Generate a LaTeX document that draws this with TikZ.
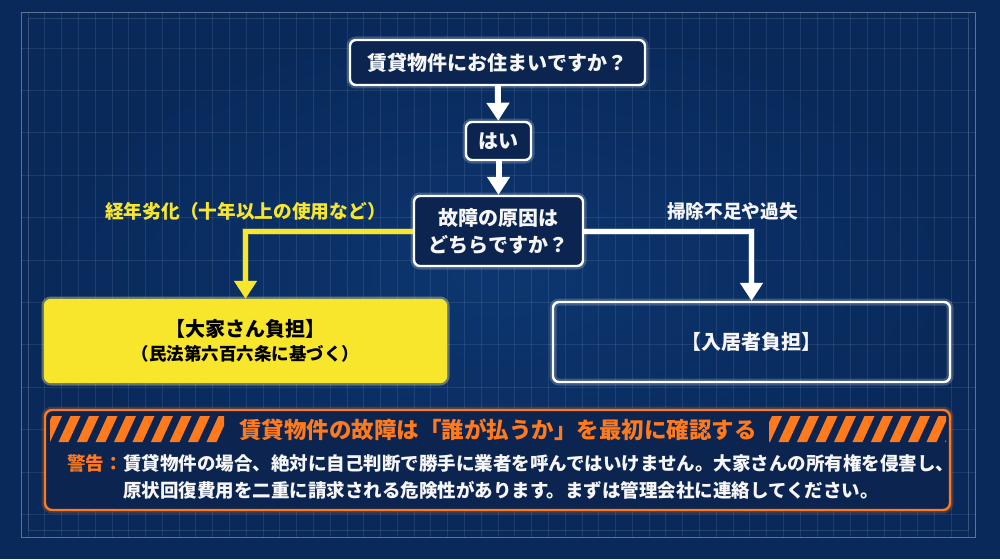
\documentclass[tikz,border=0pt]{standalone}
\usepackage{fontspec}
\setmainfont{Noto Sans CJK JP}
\usetikzlibrary{arrows.meta}

\definecolor{bgnavy}{RGB}{9,41,90}
\definecolor{bgcentre}{RGB}{14,58,118}
\definecolor{boxnavy}{RGB}{11,36,80}
\definecolor{signyellow}{RGB}{248,230,44}
\definecolor{warnorange}{RGB}{255,122,28}
\definecolor{textwhite}{RGB}{246,246,246}

\begin{document}
\begin{tikzpicture}[
    x=1pt, y=-1pt,
    % soft halo drawn under a line
    glow/.style={preaction={draw=#1, line width=7pt, opacity=0.2}},
    qbox/.style={
        rectangle,
        rounded corners=6pt,
        draw=white,
        line width=2.4pt,
        fill=boxnavy,
        text=textwhite,
        align=center,
        inner sep=0pt,
        font=\bfseries\fontsize{20pt}{27pt}\selectfont,
        glow=white,
        },
    % Result boxes: yellow for the landlord, outline for the tenant
    landlordbox/.style={
        qbox,
        draw=signyellow,
        fill=signyellow,
        text=black,
        glow=signyellow,
        },
    tenantbox/.style={
        qbox,
        fill=none,
        },
    warnbox/.style={
        rectangle,
        rounded corners=7pt,
        draw=warnorange,
        line width=2.4pt,
        fill=boxnavy,
        glow=warnorange,
        },
    flow/.style={draw=white, line width=6pt, -{Triangle[width=22pt,length=18pt]}},
    yflow/.style={flow, draw=signyellow, line width=5pt},
    wflow/.style={flow, line width=5pt},
    branchlabel/.style={font=\bfseries\fontsize{18.7pt}{22pt}\selectfont, inner sep=0pt},
    ]

    \useasboundingbox (0,0) rectangle (1000,559);
    \fill[bgnavy] (0,0) rectangle (1000,559);
    \shade[inner color=bgcentre, outer color=bgnavy, opacity=0.8] (21,12) rectangle (975,537);

    % blueprint grid
    \foreach \gx in {28,44.786,...,970}
        \draw[white, opacity=0.09, line width=0.8pt] (\gx,12) -- (\gx,537);
    \foreach \gy in {48,90.4,...,530}
        \draw[white, opacity=0.09, line width=0.8pt] (21,\gy) -- (975,\gy);
    \draw[white, opacity=0.35, line width=0.9pt] (21,12) rectangle (975,537);
    \draw[white, opacity=0.12, line width=0.8pt] (28,18) rectangle (968,530);

    \node[qbox, minimum width=295pt, minimum height=45pt] (rental) at (497.5,62.5) {賃貸物件にお住まいですか？};
    \node[qbox, minimum width=65pt, minimum height=38pt] (yes) at (498.5,141) {はい};
    \node[qbox, minimum width=169pt, minimum height=70pt] (cause) at (498.5,231) {故障の原因は\\どちらですか？};

    \node[landlordbox, minimum width=401pt, minimum height=82pt] (landlord) at (245.5,341)
        {【大家さん負担】\\[-3pt]{\fontsize{17.5pt}{22pt}\selectfont（民法第六百六条に基づく）}};
    \node[tenantbox, minimum width=397pt, minimum height=80pt] (tenant) at (751.5,342) {【入居者負担】};

    \draw[flow] (rental) -- (yes);
    \draw[flow] (yes) -- (cause);
    \draw[yflow, glow=signyellow] (cause.west) -| node[branchlabel, pos=0.5, above=8pt, text=signyellow]
        {経年劣化（十年以上の使用など）} (landlord.north);
    \draw[wflow, glow=white] (cause.east) -| node[branchlabel, pos=0.5, above=8pt, xshift=-19pt, text=textwhite]
        {掃除不足や過失} (tenant.north);

    % warning panel
    \node[warnbox, minimum width=905pt, minimum height=100pt] (warning) at (497.5,460) {};
    \begin{scope}
        \clip (50,416) rectangle (224,442);
        \foreach \i in {0,...,10}
            \fill[warnorange] ({40+\i*18.5},442) -- ++(10,0) -- ++(12,-26) -- ++(-10,0) -- cycle;
    \end{scope}
    \begin{scope}
        \clip (769,416) rectangle (946,442);
        \foreach \i in {0,...,10}
            \fill[warnorange] ({760+\i*18.5},442) -- ++(10,0) -- ++(12,-26) -- ++(-10,0) -- cycle;
    \end{scope}
    \node[font=\bfseries\fontsize{22.5pt}{26pt}\selectfont, text=warnorange, inner sep=0pt] (warntitle) at (498,430)
        {賃貸物件の故障は「誰が払うか」を最初に確認する};
    \node[font=\bfseries\fontsize{18.5pt}{27pt}\selectfont, text=warnorange, inner sep=0pt, anchor=north west] (warnkey) at (67,454) {警告：};
    \node[font=\bfseries\fontsize{18.5pt}{27pt}\selectfont, text=textwhite, inner sep=0pt, anchor=north west, align=left] (warntext)
        at (warnkey.north east) {賃貸物件の場合、絶対に自己判断で勝手に業者を呼んではいけません。大家さんの所有権を侵害し、\\原状回復費用を二重に請求される危険性があります。まずは管理会社に連絡してください。};

\end{tikzpicture}
\end{document}
